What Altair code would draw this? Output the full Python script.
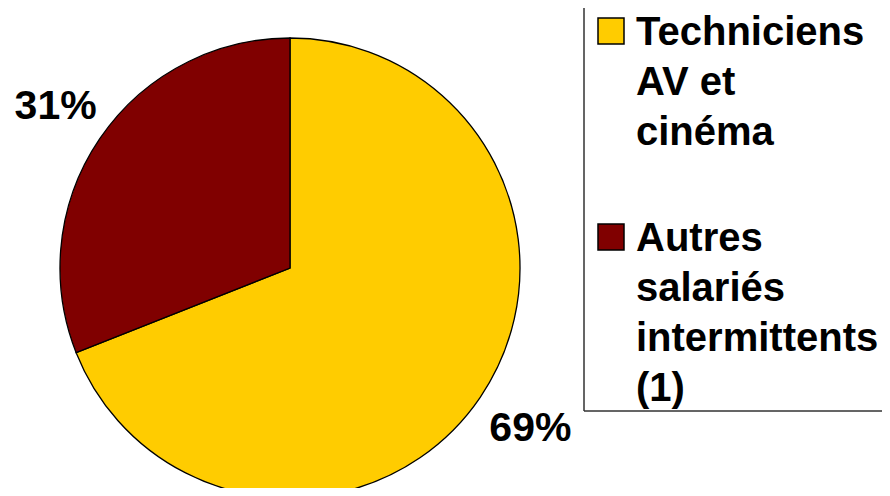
import altair as alt
import pandas as pd

categories = ["Techniciens AV et cinéma", "Autres salariés intermittents (1)"]
legend_labels = ["Techniciens\nAV et\ncinéma", "Autres\nsalariés\nintermittents\n(1)"]
values = [69, 31]
colors = ["#FFCC00", "#800000"]

df = pd.DataFrame({"cat": categories, "value": values, "ord": [0, 1], "legend": legend_labels})

color = alt.Color("cat:N", scale=alt.Scale(domain=categories, range=colors), legend=None)
base = alt.Chart(df)

pie = base.mark_arc(stroke="black", strokeWidth=1.3, radius=230).encode(
    theta=alt.Theta("value:Q", stack=True),
    order=alt.Order("ord:Q"),
    color=color,
    x=alt.value(282),
    y=alt.value(260),
)

pct = base.transform_calculate(lab="datum.value + '%'").mark_text(
    radius=287, font="Liberation Sans", fontWeight="bold", fontSize=41,
    baseline="middle", align="center", color="black", dx=3
).encode(
    theta=alt.Theta("value:Q", stack=True),
    order=alt.Order("ord:Q"),
    text="lab:N",
    x=alt.value(282),
    y=alt.value(260),
)

box_v = base.mark_rule(color="#333333", strokeWidth=1).encode(
    x=alt.value(576), y=alt.value(0), y2=alt.value(403)
)
box_h = base.mark_rule(color="#333333", strokeWidth=1).encode(
    x=alt.value(576), x2=alt.value(874), y=alt.value(403)
)

ypos = alt.Y("cat:N", scale=alt.Scale(type="point", domain=categories, range=[23, 229], padding=0), axis=None)

squares = base.mark_square(size=676, stroke="black", strokeWidth=1.5, opacity=1).encode(
    x=alt.value(603),
    y=ypos,
    color=color,
)

leg_text = base.mark_text(
    font="Liberation Sans", fontWeight="bold", fontSize=40, align="left",
    baseline="alphabetic", lineBreak="\n", lineHeight=50, dy=14, color="black"
).encode(
    x=alt.value(628),
    y=ypos,
    text="legend:N",
)

chart = alt.layer(pie, pct, box_v, box_h, squares, leg_text).properties(
    width=874, height=480, autosize=alt.AutoSizeParams(type="none"), padding=0
).configure_view(stroke=None)

chart.save("out.html", embed_options={"renderer": "svg", "actions": False})
